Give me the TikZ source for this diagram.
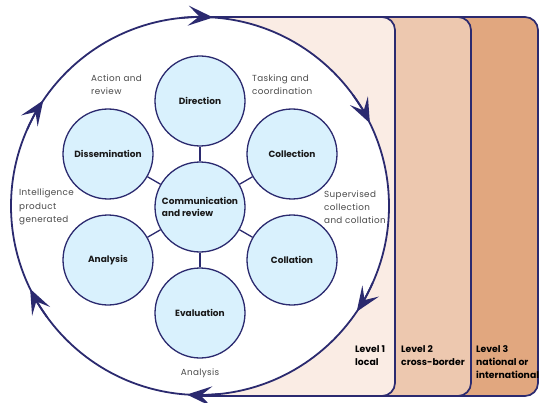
\documentclass[tikz,border=0pt]{standalone}
\usepackage{fontspec}
\setmainfont{Poppins}
\newfontfamily\notefont{Poppins}[LetterSpace=4]
\usetikzlibrary{arrows.meta}
\definecolor{navy}{HTML}{2B2A6F}
\definecolor{stagefill}{HTML}{D9F1FD}
\definecolor{lvlone}{HTML}{FAECE4}
\definecolor{lvltwo}{HTML}{EDC8AF}
\definecolor{lvlthree}{HTML}{E1A77F}
\definecolor{notegray}{HTML}{4A4A4A}
\begin{document}
\begin{tikzpicture}[x=1pt,y=1pt,
  panel/.style={draw=navy, line width=1.7pt, rounded corners=13pt},
  stage/.style={circle, draw=navy, line width=1.3pt, fill=stagefill, minimum size=90pt,
    inner sep=0pt, align=left, text=black!90, font=\bfseries\fontsize{9}{12.5}\selectfont},
  link/.style={draw=navy, line width=1.3pt},
  note/.style={anchor=west, align=left, inner sep=0pt, text=notegray,
    font=\notefont\fontsize{8.8}{13.2}\selectfont},
  level/.style={anchor=north west, align=left, inner sep=0pt, text=black,
    font=\bfseries\fontsize{9.3}{13}\selectfont},
  cyclearrow/.style={draw=navy, line width=1.8pt,
    -{Stealth[length=25pt, width=20pt, inset=11pt]}}
]
\useasboundingbox (0,0) rectangle (540,402);

% nested jurisdiction panels, widest first
\filldraw[panel, fill=lvlthree] (200,385) -- (538,385) -- (538,6) -- (200,6);
\filldraw[panel, fill=lvltwo]   (200,385) -- (471,385) -- (471,6) -- (200,6);
\filldraw[panel, fill=lvlone]   (200,385) -- (395,385) -- (395,6) -- (200,6);

\node[level] (l1) at (355,57) {Level 1\\local};
\node[level] (l2) at (401,57) {Level 2\\cross-border};
\node[level] (l3) at (476,57) {Level 3\\national or\\international};

% the intelligence cycle ring
\node[circle, draw=navy, line width=1.8pt, fill=white, minimum size=378pt, inner sep=0pt]
  (ring) at (200,196) {};
\foreach \a in {86,26,-34,266,206,146}
  \draw[cyclearrow] ([shift={(\a+10:189)}]ring.center) arc[start angle=\a+10, end angle=\a, radius=189];

% stages
\node[stage] (comm) at (200,195) {Communication\\and review};
\node[stage] (dir)  at (200,301) {Direction};
\node[stage] (col)  at (292,248) {Collection};
\node[stage] (cola) at (292,142) {Collation};
\node[stage] (eva)  at (200,89)  {Evaluation};
\node[stage] (ana)  at (108,142) {Analysis};
\node[stage] (dis)  at (108,248) {Dissemination};
\foreach \n in {dir,col,cola,eva,ana,dis}
  \draw[link] (comm) -- (\n);

% transition notes
\node[note] (n1) at (91,317)  {Action and\\review};
\node[note] (n2) at (252,317) {Tasking and\\coordination};
\node[note] (n3) at (19,195)  {Intelligence\\product\\generated};
\node[note] (n4) at (324,195) {Supervised\\collection\\and collation};
\node[note, anchor=center] (n5) at (200,29) {Analysis};
\end{tikzpicture}
\end{document}
